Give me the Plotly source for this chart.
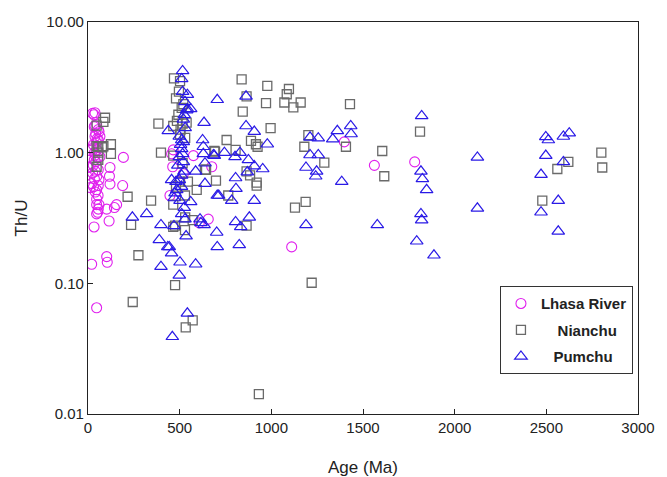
import plotly.graph_objects as go

# ---- data (Age in Ma, Th/U) ----
lhasa_age = [25, 38, 33, 47, 34, 38, 56, 60, 42, 65, 38, 50, 56, 45, 30, 11, 20, 48, 35, 38,
             65, 52, 34, 42, 29, 5, 2, 56, 40, 25, 48, 60, 35, 20, 56, 11, 30, 47, 40, 55,
             47, 60, 47, 56, 47, 53, 33, 20, 47,
             102, 105, 120, 117, 120, 102, 115, 144, 156, 193, 189,
             465, 456, 462, 447, 575, 675, 656, 607, 520,
             1398, 1562, 1111, 1782]
lhasa_thu = [2.0, 2.02, 1.95, 1.65, 1.58, 1.61, 1.5, 1.45, 1.4, 1.33, 1.33, 1.28, 1.25, 1.2, 1.15, 1.04, 1.07, 1.05, 1.0, 0.96,
             0.93, 0.92, 0.88, 0.85, 0.8, 0.77, 0.78, 0.74, 0.72, 0.7, 0.66, 0.62, 0.63, 0.58, 0.56, 0.54, 0.55, 0.52, 0.5, 0.47,
             0.44, 0.40, 0.40, 0.37, 0.34, 0.35, 0.27, 0.14, 0.065,
             0.16, 0.145, 0.77, 0.66, 0.575, 0.37, 0.30, 0.38, 0.40, 0.92, 0.56,
             1.05, 0.98, 0.78, 0.47, 0.95, 0.78, 0.31, 0.29, 0.69,
             1.21, 0.80, 0.19, 0.85]

nianchu_age = [93, 84, 47, 47, 56, 78, 84, 125, 125, 56, 56, 47, 216, 235, 275, 244, 344, 384, 398,
               469, 502, 480, 496, 465, 516, 538, 493, 502, 465, 516, 502, 593, 529, 465, 571, 529, 465, 475, 571, 533,
               638, 693, 698, 475, 511, 520, 485, 505, 530, 480, 545, 530,
               838, 756, 844, 865, 889, 916, 689, 805, 644, 920, 920, 865, 765, 865,
               978, 1096, 1084, 971, 1071, 1120, 1160, 1429, 996, 925, 1202, 1180, 1289, 1407, 1605, 1616, 884,
               1187, 1129, 1220, 932,
               1811, 2560, 2620, 2800, 2805, 2478]
nianchu_thu = [1.85, 1.72, 1.61, 1.12, 1.11, 1.10, 1.12, 1.16, 0.98, 1.0, 0.88, 0.78, 0.46, 0.28, 0.164, 0.072, 0.43, 1.67, 1.0,
               3.7, 3.53, 2.6, 2.93, 1.6, 1.67, 1.7, 1.95, 1.38, 0.95, 0.83, 0.6, 0.52, 0.47, 0.40, 0.305, 0.255, 0.27, 0.097, 0.052, 0.046,
               0.74, 1.02, 0.61, 0.276, 2.2, 2.35, 1.75, 1.5, 1.3, 0.55, 0.6, 0.32,
               3.64, 1.25, 2.06, 2.7, 1.23, 1.16, 1.03, 1.05, 0.74, 0.59, 0.56, 0.72, 0.47, 0.276,
               3.25, 3.07, 2.8, 2.39, 2.42, 2.22, 2.42, 2.35, 1.54, 1.11, 1.36, 1.11, 0.84, 1.11, 1.03, 0.66, 0.67,
               0.42, 0.38, 0.101, 0.0142,
               1.45, 0.75, 0.85, 1.0, 0.77, 0.43]

pumchu_age = [516, 511, 516, 542, 529, 542, 560, 538, 525, 633, 705, 438, 511, 625, 629, 684, 511, 516, 498, 498,
              520, 629, 638, 524, 511, 456, 498, 587, 638, 705, 484, 475, 502, 560, 511, 529, 535, 611, 633, 702,
              705, 587, 502, 498, 542, 460, 398, 389, 435, 456, 398, 320, 242, 469, 443, 616,
              520, 530, 505, 490, 520, 480, 510, 470, 525,
              862, 862, 907, 744, 689, 802, 829, 875, 907, 869, 805, 807, 713, 784, 907, 880, 805, 833, 825,
              978, 1211, 1256, 1335, 1360, 1433, 1435, 1211, 1256, 1189, 1247, 1242, 1384, 953, 1189, 1578,
              1820, 2124, 1816, 1824, 1847, 1816, 1820, 1793, 1887, 2124,
              2497, 2511, 2593, 2625, 2497, 2593, 2471, 2565, 2471, 2565]
pumchu_thu = [4.22, 3.67, 2.93, 2.78, 2.45, 2.16, 2.16, 2.12, 1.95, 1.7, 2.54, 1.47, 1.25, 1.25, 1.11, 0.96, 1.07, 0.98, 0.93, 1.33,
              1.21, 0.98, 0.83, 0.72, 0.67, 0.62, 0.62, 0.72, 0.58, 0.47, 0.52, 0.49, 0.43, 0.42, 0.34, 0.31, 0.23, 0.31, 0.28, 0.245,
              0.19, 0.14, 0.145, 0.115, 0.059, 0.039, 0.28, 0.215, 0.19, 0.17, 0.134, 0.34, 0.32, 0.275, 0.19, 0.29,
              1.8, 1.55, 1.15, 0.8, 0.85, 0.6, 0.55, 0.45, 0.38,
              2.7, 1.6, 1.45, 1.0, 0.95, 0.93, 1.0, 0.88, 0.79, 0.71, 0.64, 0.53, 0.47, 0.43, 0.43, 0.32, 0.295, 0.27, 0.197,
              1.16, 1.31, 1.29, 1.27, 1.47, 1.6, 1.39, 0.96, 0.96, 0.77, 0.72, 0.66, 0.6, 0.75, 0.28, 0.28,
              1.91, 0.92, 0.72, 0.63, 0.52, 0.34, 0.305, 0.21, 0.164, 0.375,
              1.32, 1.25, 1.33, 1.41, 0.95, 0.85, 0.68, 0.43, 0.35, 0.25]

series_names = ["Lhasa River", "Nianchu", "Pumchu"]
y_tickvals = [0.01, 0.1, 1, 10]
y_ticktext = ["0.01", "0.10", "1.00", "10.00"]
x_tickvals = [0, 500, 1000, 1500, 2000, 2500, 3000]

FONT = "Liberation Sans, Arial, sans-serif"
NB = "\u00a0"

fig = go.Figure()
fig.add_trace(go.Scatter(x=lhasa_age, y=lhasa_thu, mode="markers", name=series_names[0],
                         legendgroup="a",
                         marker=dict(symbol="circle-open", size=10, color="#E020EE",
                                     line=dict(width=1.1, color="#E020EE"))))
fig.add_trace(go.Scatter(x=nianchu_age, y=nianchu_thu, mode="markers", name=NB * 4 + series_names[1],
                         legendgroup="b",
                         marker=dict(symbol="square-open", size=9, color="#6a6a6a",
                                     line=dict(width=1.3, color="#6a6a6a"))))
fig.add_trace(go.Scatter(x=pumchu_age, y=pumchu_thu, mode="markers", name=NB * 3 + series_names[2],
                         legendgroup="c",
                         marker=dict(symbol="triangle-up-open", size=11, color="#2a1ae6",
                                     line=dict(width=1.2, color="#2a1ae6"))))

fig.update_layout(
    width=667, height=477,
    margin=dict(l=88, r=29, t=22, b=63, autoexpand=False),
    paper_bgcolor="white", plot_bgcolor="white",
    font=dict(family=FONT, color="#222222", size=15),
    showlegend=True,
    legend=dict(x=0.749, y=0.326, xanchor="left", yanchor="top",
                bordercolor="#333333", borderwidth=1, bgcolor="white",
                font=dict(family=FONT, size=15, color="#222222", weight="bold"),
                tracegroupgap=4, itemsizing="trace"),
)
fig.update_xaxes(range=[0, 3000], tickvals=x_tickvals, ticks="inside", ticklen=5,
                 tickcolor="#222222", showline=True, linecolor="#222222", linewidth=1.3,
                 mirror=True, showgrid=False, zeroline=False, automargin=False,
                 tickfont=dict(size=15),
                 title=dict(text="Age (Ma)", font=dict(size=17), standoff=27))
fig.update_yaxes(type="log", range=[-2, 1], tickvals=y_tickvals, ticktext=y_ticktext,
                 ticks="inside", ticklen=5, tickcolor="#222222",
                 showline=True, linecolor="#222222", linewidth=1.3,
                 mirror=True, showgrid=False, zeroline=False, automargin=False,
                 tickfont=dict(size=15),
                 title=dict(text="Th/U", font=dict(size=17), standoff=14))

fig.write_html("out.html")
